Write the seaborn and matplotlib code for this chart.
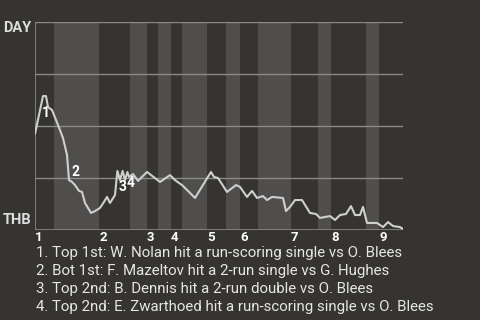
import matplotlib
matplotlib.use("Agg")
import matplotlib.pyplot as plt
import seaborn as sns
import pandas as pd

# ---- data ----
# play index (game progress) and win probability toward DAY (1 = DAY, 0 = THB)
play = [0, 2, 2.75, 3.25, 4.25, 5.75, 7, 8, 8.5, 9.25, 10, 11, 11.75, 12.5, 14, 15,
        16.25, 17.25, 18, 18.75, 20, 20.6, 21.25, 21.9, 22.5, 23.1, 23.5, 24.5, 25.75,
        28, 31.25, 33.75, 35, 36.75, 38.25, 40, 44, 44.75, 45.75, 48, 50.25, 51.25, 53,
        54.25, 55.5, 57, 58, 59.25, 62, 62.75, 63.75, 65, 66.75, 68.75, 70.25, 71.25,
        73.75, 75, 76.25, 77.75, 79, 80, 81.25, 82, 83, 85.5, 87, 88.25, 89.5, 91.25, 92]
wp = [0.462, 0.644, 0.644, 0.591, 0.577, 0.505, 0.442, 0.361, 0.240, 0.231, 0.216, 0.188,
      0.183, 0.130, 0.082, 0.091, 0.106, 0.135, 0.159, 0.130, 0.168, 0.284, 0.240, 0.284,
      0.240, 0.279, 0.255, 0.269, 0.236, 0.279, 0.231, 0.264, 0.240, 0.216, 0.188, 0.154,
      0.279, 0.255, 0.250, 0.183, 0.216, 0.207, 0.159, 0.188, 0.154, 0.163, 0.144, 0.159,
      0.154, 0.091, 0.111, 0.144, 0.144, 0.082, 0.077, 0.058, 0.067, 0.048, 0.072, 0.077,
      0.115, 0.072, 0.072, 0.111, 0.034, 0.034, 0.014, 0.038, 0.019, 0.014, 0.005]

# half-inning start positions (top 1st ... top 9th) and game end
half_starts = [0, 4.75, 16, 23.75, 28, 30.75, 34, 36.75, 43, 47.75, 51.25, 55.75,
               64, 70.75, 74, 82.75, 86]
game_end = 92
inning_labels = ["1", "2", "3", "4", "5", "6", "7", "8", "9"]

event_x = [2.75, 10, 21.9, 23.9]
event_y = [0.5625, 0.279, 0.207, 0.226]
event_labels = ["1", "2", "3", "4"]

team_top = "DAY"
team_bottom = "THB"

notes = [
    "1. Top 1st: W. Nolan hit a run-scoring single vs O. Blees",
    "2. Bot 1st: F. Mazeltov hit a 2-run single vs G. Hughes",
    "3. Top 2nd: B. Dennis hit a 2-run double vs O. Blees",
    "4. Top 2nd: E. Zwarthoed hit a run-scoring single vs O. Blees",
]

# ---- style ----
sns.set_style("dark")
plt.rcParams["font.family"] = ["Roboto", "DejaVu Sans"]
BG = "#363431"
BAND = "#4f4e4c"
GRID = "#8a8a88"
LINE = "#cfcfcf"
TXT = "#e6e6e6"

fig = plt.figure(figsize=(4.8, 3.2), dpi=100, facecolor=BG)
ax = fig.add_axes([35 / 480, 1 - 230 / 320, 368 / 480, 208 / 320])
ax.set_facecolor(BG)

# bottom-half bands
ends = half_starts[1:] + [game_end]
for i, (s, e) in enumerate(zip(half_starts, ends)):
    if i % 2 == 1:
        ax.axvspan(s, e, color=BAND, lw=0, zorder=0)

for yv in [0.25, 0.5, 0.75, 1.0]:
    ax.axhline(yv, color=GRID, lw=1, zorder=1)
ax.axhline(0, color=GRID, lw=1.2, zorder=1)
ax.axvline(0, color=GRID, lw=1.2, zorder=1)

df = pd.DataFrame({"play": play, "wp": wp})
sns.lineplot(data=df, x="play", y="wp", ax=ax, color=LINE, lw=1.5, zorder=3)

for x, y, t in zip(event_x, event_y, event_labels):
    ax.text(x, y, t, color="white", fontsize=10, fontweight="bold",
            ha="center", va="center", zorder=4)

ax.set_xlim(0, game_end)
ax.set_ylim(0, 1)
ax.set_xticks([])
ax.set_yticks([])
ax.set_xlabel("")
ax.set_ylabel("")
for sp in ax.spines.values():
    sp.set_visible(False)
ax.grid(False)

# inning labels at top-half starts
for lab, s in zip(inning_labels, half_starts[0::2]):
    ax.text(s, -0.005, lab, transform=ax.get_xaxis_transform(), color="white",
            fontsize=9.5, fontweight="bold", ha="left", va="top")

fig.text(31 / 480, 1 - 28 / 320, team_top, color="#dddddd", fontsize=10.5,
         fontweight="bold", ha="right", va="center")
fig.text(31 / 480, 1 - 219.5 / 320, team_bottom, color="#dddddd", fontsize=10.5,
         fontweight="bold", ha="right", va="center")

for i, n in enumerate(notes):
    fig.text(36 / 480, 1 - (257 + 18 * i) / 320, n, color=TXT, fontsize=10.85,
             ha="left", va="baseline")

fig.savefig("out.png", dpi=100, facecolor=BG)
